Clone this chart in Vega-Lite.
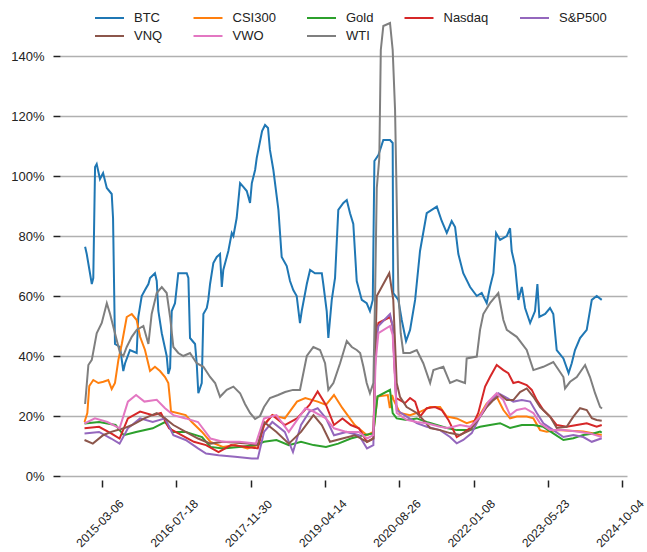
{
"$schema": "https://vega.github.io/schema/vega-lite/v6.json",
"width": 567, "height": 478,
"autosize": {"type": "none"},
"padding": {"left": 60, "top": 2, "right": 20, "bottom": 72},
"background": "white",
"config": {"view": {"stroke": null}, "font": "Liberation Sans"},
"datasets": {
"vol": [
{"date":"2014-11-12","asset":"BTC","vol":0.764},{"date":"2014-11-23","asset":"BTC","vol":0.74},{"date":"2014-12-27","asset":"BTC","vol":0.64},{"date":"2015-01-06","asset":"BTC","vol":0.66},{"date":"2015-01-18","asset":"BTC","vol":1.03},{"date":"2015-01-29","asset":"BTC","vol":1.04},{"date":"2015-02-20","asset":"BTC","vol":0.99},{"date":"2015-03-13","asset":"BTC","vol":1.01},{"date":"2015-04-07","asset":"BTC","vol":0.96},{"date":"2015-05-10","asset":"BTC","vol":0.94},{"date":"2015-05-19","asset":"BTC","vol":0.86},{"date":"2015-06-01","asset":"BTC","vol":0.44},{"date":"2015-07-05","asset":"BTC","vol":0.43},{"date":"2015-07-27","asset":"BTC","vol":0.35},{"date":"2015-08-08","asset":"BTC","vol":0.376},{"date":"2015-09-10","asset":"BTC","vol":0.42},{"date":"2015-10-25","asset":"BTC","vol":0.41},{"date":"2015-11-05","asset":"BTC","vol":0.53},{"date":"2015-11-28","asset":"BTC","vol":0.60},{"date":"2015-12-20","asset":"BTC","vol":0.62},{"date":"2016-01-12","asset":"BTC","vol":0.64},{"date":"2016-01-23","asset":"BTC","vol":0.66},{"date":"2016-02-25","asset":"BTC","vol":0.676},{"date":"2016-03-08","asset":"BTC","vol":0.65},{"date":"2016-03-19","asset":"BTC","vol":0.55},{"date":"2016-04-11","asset":"BTC","vol":0.476},{"date":"2016-05-14","asset":"BTC","vol":0.40},{"date":"2016-05-25","asset":"BTC","vol":0.34},{"date":"2016-06-06","asset":"BTC","vol":0.36},{"date":"2016-06-17","asset":"BTC","vol":0.55},{"date":"2016-07-09","asset":"BTC","vol":0.576},{"date":"2016-07-31","asset":"BTC","vol":0.676},{"date":"2016-09-26","asset":"BTC","vol":0.676},{"date":"2016-10-07","asset":"BTC","vol":0.66},{"date":"2016-10-18","asset":"BTC","vol":0.46},{"date":"2016-11-21","asset":"BTC","vol":0.44},{"date":"2016-12-02","asset":"BTC","vol":0.376},{"date":"2016-12-13","asset":"BTC","vol":0.276},{"date":"2017-01-05","asset":"BTC","vol":0.31},{"date":"2017-01-16","asset":"BTC","vol":0.54},{"date":"2017-02-08","asset":"BTC","vol":0.56},{"date":"2017-02-18","asset":"BTC","vol":0.587},{"date":"2017-03-02","asset":"BTC","vol":0.64},{"date":"2017-03-24","asset":"BTC","vol":0.71},{"date":"2017-04-16","asset":"BTC","vol":0.73},{"date":"2017-05-08","asset":"BTC","vol":0.74},{"date":"2017-05-20","asset":"BTC","vol":0.63},{"date":"2017-05-30","asset":"BTC","vol":0.687},{"date":"2017-07-03","asset":"BTC","vol":0.75},{"date":"2017-07-26","asset":"BTC","vol":0.81},{"date":"2017-08-06","asset":"BTC","vol":0.80},{"date":"2017-08-28","asset":"BTC","vol":0.86},{"date":"2017-09-20","asset":"BTC","vol":0.976},{"date":"2017-10-12","asset":"BTC","vol":0.964},{"date":"2017-11-04","asset":"BTC","vol":0.95},{"date":"2017-11-26","asset":"BTC","vol":0.91},{"date":"2017-12-08","asset":"BTC","vol":0.976},{"date":"2017-12-30","asset":"BTC","vol":1.02},{"date":"2018-01-10","asset":"BTC","vol":1.06},{"date":"2018-02-15","asset":"BTC","vol":1.15},{"date":"2018-03-07","asset":"BTC","vol":1.17},{"date":"2018-03-27","asset":"BTC","vol":1.16},{"date":"2018-04-09","asset":"BTC","vol":1.087},{"date":"2018-05-02","asset":"BTC","vol":1.02},{"date":"2018-06-05","asset":"BTC","vol":0.887},{"date":"2018-06-27","asset":"BTC","vol":0.73},{"date":"2018-07-31","asset":"BTC","vol":0.70},{"date":"2018-08-22","asset":"BTC","vol":0.65},{"date":"2018-09-13","asset":"BTC","vol":0.62},{"date":"2018-10-06","asset":"BTC","vol":0.60},{"date":"2018-10-28","asset":"BTC","vol":0.51},{"date":"2018-11-09","asset":"BTC","vol":0.55},{"date":"2018-12-13","asset":"BTC","vol":0.64},{"date":"2019-01-04","asset":"BTC","vol":0.687},{"date":"2019-02-06","asset":"BTC","vol":0.676},{"date":"2019-03-24","asset":"BTC","vol":0.676},{"date":"2019-04-03","asset":"BTC","vol":0.64},{"date":"2019-04-26","asset":"BTC","vol":0.55},{"date":"2019-05-07","asset":"BTC","vol":0.46},{"date":"2019-05-30","asset":"BTC","vol":0.587},{"date":"2019-06-21","asset":"BTC","vol":0.66},{"date":"2019-07-13","asset":"BTC","vol":0.887},{"date":"2019-08-16","asset":"BTC","vol":0.91},{"date":"2019-09-08","asset":"BTC","vol":0.92},{"date":"2019-09-30","asset":"BTC","vol":0.876},{"date":"2019-10-22","asset":"BTC","vol":0.84},{"date":"2019-11-14","asset":"BTC","vol":0.65},{"date":"2019-12-18","asset":"BTC","vol":0.587},{"date":"2020-01-20","asset":"BTC","vol":0.576},{"date":"2020-02-11","asset":"BTC","vol":0.55},{"date":"2020-03-01","asset":"BTC","vol":0.587},{"date":"2020-03-12","asset":"BTC","vol":1.05},{"date":"2020-04-08","asset":"BTC","vol":1.07},{"date":"2020-05-11","asset":"BTC","vol":1.12},{"date":"2020-06-25","asset":"BTC","vol":1.12},{"date":"2020-07-13","asset":"BTC","vol":1.11},{"date":"2020-07-17","asset":"BTC","vol":0.61},{"date":"2020-08-20","asset":"BTC","vol":0.587},{"date":"2020-09-12","asset":"BTC","vol":0.52},{"date":"2020-10-11","asset":"BTC","vol":0.45},{"date":"2020-11-07","asset":"BTC","vol":0.487},{"date":"2020-12-11","asset":"BTC","vol":0.587},{"date":"2021-01-13","asset":"BTC","vol":0.75},{"date":"2021-02-27","asset":"BTC","vol":0.876},{"date":"2021-04-02","asset":"BTC","vol":0.887},{"date":"2021-05-06","asset":"BTC","vol":0.898},{"date":"2021-06-08","asset":"BTC","vol":0.85},{"date":"2021-07-12","asset":"BTC","vol":0.81},{"date":"2021-08-14","asset":"BTC","vol":0.85},{"date":"2021-09-06","asset":"BTC","vol":0.83},{"date":"2021-09-28","asset":"BTC","vol":0.74},{"date":"2021-10-31","asset":"BTC","vol":0.676},{"date":"2021-12-16","asset":"BTC","vol":0.63},{"date":"2022-01-30","asset":"BTC","vol":0.60},{"date":"2022-03-04","asset":"BTC","vol":0.61},{"date":"2022-04-07","asset":"BTC","vol":0.576},{"date":"2022-04-29","asset":"BTC","vol":0.63},{"date":"2022-05-22","asset":"BTC","vol":0.676},{"date":"2022-06-09","asset":"BTC","vol":0.81},{"date":"2022-07-06","asset":"BTC","vol":0.787},{"date":"2022-08-20","asset":"BTC","vol":0.80},{"date":"2022-09-11","asset":"BTC","vol":0.826},{"date":"2022-09-22","asset":"BTC","vol":0.75},{"date":"2022-10-15","asset":"BTC","vol":0.70},{"date":"2022-11-06","asset":"BTC","vol":0.587},{"date":"2022-11-29","asset":"BTC","vol":0.63},{"date":"2022-12-21","asset":"BTC","vol":0.56},{"date":"2023-01-24","asset":"BTC","vol":0.51},{"date":"2023-02-26","asset":"BTC","vol":0.55},{"date":"2023-03-14","asset":"BTC","vol":0.64},{"date":"2023-03-27","asset":"BTC","vol":0.53},{"date":"2023-05-05","asset":"BTC","vol":0.54},{"date":"2023-06-07","asset":"BTC","vol":0.56},{"date":"2023-06-29","asset":"BTC","vol":0.54},{"date":"2023-07-22","asset":"BTC","vol":0.42},{"date":"2023-09-05","asset":"BTC","vol":0.392},{"date":"2023-10-10","asset":"BTC","vol":0.343},{"date":"2023-10-31","asset":"BTC","vol":0.376},{"date":"2023-11-22","asset":"BTC","vol":0.42},{"date":"2023-12-26","asset":"BTC","vol":0.46},{"date":"2024-02-09","asset":"BTC","vol":0.487},{"date":"2024-03-14","asset":"BTC","vol":0.587},{"date":"2024-04-16","asset":"BTC","vol":0.60},{"date":"2024-05-20","asset":"BTC","vol":0.587},

{"date":"2014-11-08","asset":"CSI300","vol":0.18},{"date":"2014-11-27","asset":"CSI300","vol":0.21},{"date":"2014-12-10","asset":"CSI300","vol":0.30},{"date":"2015-01-06","asset":"CSI300","vol":0.32},{"date":"2015-02-09","asset":"CSI300","vol":0.31},{"date":"2015-03-15","asset":"CSI300","vol":0.314},{"date":"2015-04-17","asset":"CSI300","vol":0.32},{"date":"2015-05-10","asset":"CSI300","vol":0.29},{"date":"2015-06-01","asset":"CSI300","vol":0.31},{"date":"2015-06-24","asset":"CSI300","vol":0.387},{"date":"2015-07-17","asset":"CSI300","vol":0.44},{"date":"2015-08-19","asset":"CSI300","vol":0.53},{"date":"2015-09-22","asset":"CSI300","vol":0.54},{"date":"2015-10-25","asset":"CSI300","vol":0.52},{"date":"2015-11-17","asset":"CSI300","vol":0.464},{"date":"2015-12-20","asset":"CSI300","vol":0.42},{"date":"2016-01-23","asset":"CSI300","vol":0.35},{"date":"2016-02-25","asset":"CSI300","vol":0.364},{"date":"2016-03-30","asset":"CSI300","vol":0.35},{"date":"2016-05-03","asset":"CSI300","vol":0.33},{"date":"2016-05-25","asset":"CSI300","vol":0.31},{"date":"2016-06-06","asset":"CSI300","vol":0.25},{"date":"2016-06-12","asset":"CSI300","vol":0.215},{"date":"2016-07-25","asset":"CSI300","vol":0.21},{"date":"2016-09-19","asset":"CSI300","vol":0.203},{"date":"2016-10-30","asset":"CSI300","vol":0.18},{"date":"2017-01-07","asset":"CSI300","vol":0.147},{"date":"2017-03-05","asset":"CSI300","vol":0.114},{"date":"2017-05-27","asset":"CSI300","vol":0.097},{"date":"2017-08-17","asset":"CSI300","vol":0.103},{"date":"2017-11-09","asset":"CSI300","vol":0.092},{"date":"2018-01-17","asset":"CSI300","vol":0.103},{"date":"2018-02-28","asset":"CSI300","vol":0.17},{"date":"2018-04-25","asset":"CSI300","vol":0.203},{"date":"2018-07-18","asset":"CSI300","vol":0.192},{"date":"2018-10-08","asset":"CSI300","vol":0.248},{"date":"2018-12-03","asset":"CSI300","vol":0.26},{"date":"2019-02-24","asset":"CSI300","vol":0.248},{"date":"2019-04-21","asset":"CSI300","vol":0.237},{"date":"2019-06-14","asset":"CSI300","vol":0.27},{"date":"2019-08-10","asset":"CSI300","vol":0.226},{"date":"2019-11-01","asset":"CSI300","vol":0.17},{"date":"2020-01-22","asset":"CSI300","vol":0.136},{"date":"2020-03-05","asset":"CSI300","vol":0.147},{"date":"2020-04-02","asset":"CSI300","vol":0.265},{"date":"2020-06-10","asset":"CSI300","vol":0.27},{"date":"2020-06-24","asset":"CSI300","vol":0.226},{"date":"2020-07-09","asset":"CSI300","vol":0.27},{"date":"2020-07-20","asset":"CSI300","vol":0.253},{"date":"2020-08-31","asset":"CSI300","vol":0.21},{"date":"2020-11-07","asset":"CSI300","vol":0.203},{"date":"2021-01-13","asset":"CSI300","vol":0.214},{"date":"2021-03-22","asset":"CSI300","vol":0.23},{"date":"2021-05-28","asset":"CSI300","vol":0.23},{"date":"2021-07-12","asset":"CSI300","vol":0.198},{"date":"2021-09-17","asset":"CSI300","vol":0.192},{"date":"2021-11-23","asset":"CSI300","vol":0.176},{"date":"2022-01-30","asset":"CSI300","vol":0.187},{"date":"2022-04-07","asset":"CSI300","vol":0.242},{"date":"2022-06-13","asset":"CSI300","vol":0.264},{"date":"2022-07-28","asset":"CSI300","vol":0.22},{"date":"2022-09-11","asset":"CSI300","vol":0.192},{"date":"2022-10-26","asset":"CSI300","vol":0.198},{"date":"2023-01-01","asset":"CSI300","vol":0.198},{"date":"2023-02-15","asset":"CSI300","vol":0.192},{"date":"2023-04-01","asset":"CSI300","vol":0.153},{"date":"2023-05-16","asset":"CSI300","vol":0.148},{"date":"2023-07-22","asset":"CSI300","vol":0.153},{"date":"2024-01-17","asset":"CSI300","vol":0.148},{"date":"2024-05-20","asset":"CSI300","vol":0.137},

{"date":"2014-11-08","asset":"Gold","vol":0.175},{"date":"2015-02-14","asset":"Gold","vol":0.18},{"date":"2015-06-05","asset":"Gold","vol":0.17},{"date":"2015-07-30","asset":"Gold","vol":0.136},{"date":"2015-10-21","asset":"Gold","vol":0.147},{"date":"2016-02-10","asset":"Gold","vol":0.159},{"date":"2016-05-03","asset":"Gold","vol":0.18},{"date":"2016-06-28","asset":"Gold","vol":0.147},{"date":"2016-09-19","asset":"Gold","vol":0.147},{"date":"2017-01-07","asset":"Gold","vol":0.13},{"date":"2017-03-05","asset":"Gold","vol":0.097},{"date":"2017-05-27","asset":"Gold","vol":0.092},{"date":"2017-09-13","asset":"Gold","vol":0.097},{"date":"2018-01-04","asset":"Gold","vol":0.103},{"date":"2018-02-28","asset":"Gold","vol":0.114},{"date":"2018-05-23","asset":"Gold","vol":0.12},{"date":"2018-08-14","asset":"Gold","vol":0.103},{"date":"2018-11-04","asset":"Gold","vol":0.114},{"date":"2019-01-27","asset":"Gold","vol":0.103},{"date":"2019-04-21","asset":"Gold","vol":0.097},{"date":"2019-07-13","asset":"Gold","vol":0.108},{"date":"2019-10-05","asset":"Gold","vol":0.125},{"date":"2019-12-27","asset":"Gold","vol":0.136},{"date":"2020-03-05","asset":"Gold","vol":0.142},{"date":"2020-04-02","asset":"Gold","vol":0.265},{"date":"2020-06-25","asset":"Gold","vol":0.287},{"date":"2020-07-13","asset":"Gold","vol":0.21},{"date":"2020-08-09","asset":"Gold","vol":0.192},{"date":"2020-10-15","asset":"Gold","vol":0.187},{"date":"2020-12-22","asset":"Gold","vol":0.192},{"date":"2021-02-27","asset":"Gold","vol":0.18},{"date":"2021-05-06","asset":"Gold","vol":0.17},{"date":"2021-07-12","asset":"Gold","vol":0.16},{"date":"2021-09-17","asset":"Gold","vol":0.153},{"date":"2021-12-16","asset":"Gold","vol":0.153},{"date":"2022-02-21","asset":"Gold","vol":0.164},{"date":"2022-04-29","asset":"Gold","vol":0.17},{"date":"2022-07-06","asset":"Gold","vol":0.176},{"date":"2022-09-11","asset":"Gold","vol":0.16},{"date":"2022-11-29","asset":"Gold","vol":0.17},{"date":"2023-02-15","asset":"Gold","vol":0.17},{"date":"2023-04-23","asset":"Gold","vol":0.164},{"date":"2023-06-29","asset":"Gold","vol":0.142},{"date":"2023-09-05","asset":"Gold","vol":0.12},{"date":"2023-11-11","asset":"Gold","vol":0.126},{"date":"2024-01-17","asset":"Gold","vol":0.137},{"date":"2024-03-24","asset":"Gold","vol":0.142},{"date":"2024-05-09","asset":"Gold","vol":0.148},{"date":"2024-05-20","asset":"Gold","vol":0.145},

{"date":"2014-11-08","asset":"Nasdaq","vol":0.159},{"date":"2015-02-14","asset":"Nasdaq","vol":0.164},{"date":"2015-05-06","asset":"Nasdaq","vol":0.142},{"date":"2015-07-02","asset":"Nasdaq","vol":0.125},{"date":"2015-08-27","asset":"Nasdaq","vol":0.192},{"date":"2015-11-17","asset":"Nasdaq","vol":0.215},{"date":"2016-02-10","asset":"Nasdaq","vol":0.203},{"date":"2016-04-05","asset":"Nasdaq","vol":0.21},{"date":"2016-05-30","asset":"Nasdaq","vol":0.159},{"date":"2016-08-22","asset":"Nasdaq","vol":0.136},{"date":"2016-11-13","asset":"Nasdaq","vol":0.114},{"date":"2017-02-03","asset":"Nasdaq","vol":0.103},{"date":"2017-04-28","asset":"Nasdaq","vol":0.08},{"date":"2017-07-21","asset":"Nasdaq","vol":0.103},{"date":"2017-11-09","asset":"Nasdaq","vol":0.097},{"date":"2018-01-17","asset":"Nasdaq","vol":0.092},{"date":"2018-02-28","asset":"Nasdaq","vol":0.17},{"date":"2018-04-25","asset":"Nasdaq","vol":0.203},{"date":"2018-07-18","asset":"Nasdaq","vol":0.17},{"date":"2018-10-08","asset":"Nasdaq","vol":0.192},{"date":"2018-12-31","asset":"Nasdaq","vol":0.237},{"date":"2019-02-24","asset":"Nasdaq","vol":0.282},{"date":"2019-04-21","asset":"Nasdaq","vol":0.237},{"date":"2019-06-14","asset":"Nasdaq","vol":0.17},{"date":"2019-08-10","asset":"Nasdaq","vol":0.192},{"date":"2019-10-05","asset":"Nasdaq","vol":0.17},{"date":"2019-11-29","asset":"Nasdaq","vol":0.159},{"date":"2020-01-22","asset":"Nasdaq","vol":0.114},{"date":"2020-03-05","asset":"Nasdaq","vol":0.125},{"date":"2020-03-20","asset":"Nasdaq","vol":0.45},{"date":"2020-04-08","asset":"Nasdaq","vol":0.51},{"date":"2020-06-25","asset":"Nasdaq","vol":0.53},{"date":"2020-07-13","asset":"Nasdaq","vol":0.50},{"date":"2020-08-05","asset":"Nasdaq","vol":0.26},{"date":"2020-08-31","asset":"Nasdaq","vol":0.253},{"date":"2020-10-04","asset":"Nasdaq","vol":0.243},{"date":"2020-11-07","asset":"Nasdaq","vol":0.26},{"date":"2020-12-11","asset":"Nasdaq","vol":0.248},{"date":"2021-01-13","asset":"Nasdaq","vol":0.198},{"date":"2021-02-27","asset":"Nasdaq","vol":0.226},{"date":"2021-04-24","asset":"Nasdaq","vol":0.23},{"date":"2021-06-08","asset":"Nasdaq","vol":0.22},{"date":"2021-07-23","asset":"Nasdaq","vol":0.187},{"date":"2021-09-17","asset":"Nasdaq","vol":0.13},{"date":"2021-10-31","asset":"Nasdaq","vol":0.143},{"date":"2021-12-27","asset":"Nasdaq","vol":0.164},{"date":"2022-02-09","asset":"Nasdaq","vol":0.21},{"date":"2022-03-27","asset":"Nasdaq","vol":0.298},{"date":"2022-04-29","asset":"Nasdaq","vol":0.33},{"date":"2022-06-13","asset":"Nasdaq","vol":0.37},{"date":"2022-07-28","asset":"Nasdaq","vol":0.353},{"date":"2022-08-30","asset":"Nasdaq","vol":0.343},{"date":"2022-10-03","asset":"Nasdaq","vol":0.31},{"date":"2022-11-06","asset":"Nasdaq","vol":0.314},{"date":"2023-01-01","asset":"Nasdaq","vol":0.303},{"date":"2023-02-04","asset":"Nasdaq","vol":0.287},{"date":"2023-03-10","asset":"Nasdaq","vol":0.253},{"date":"2023-04-23","asset":"Nasdaq","vol":0.22},{"date":"2023-06-07","asset":"Nasdaq","vol":0.198},{"date":"2023-07-22","asset":"Nasdaq","vol":0.17},{"date":"2023-09-27","asset":"Nasdaq","vol":0.164},{"date":"2023-12-04","asset":"Nasdaq","vol":0.17},{"date":"2024-02-09","asset":"Nasdaq","vol":0.176},{"date":"2024-04-16","asset":"Nasdaq","vol":0.164},{"date":"2024-05-20","asset":"Nasdaq","vol":0.17},

{"date":"2014-11-08","asset":"S&P500","vol":0.142},{"date":"2015-02-14","asset":"S&P500","vol":0.147},{"date":"2015-05-06","asset":"S&P500","vol":0.125},{"date":"2015-07-02","asset":"S&P500","vol":0.108},{"date":"2015-08-27","asset":"S&P500","vol":0.159},{"date":"2015-11-17","asset":"S&P500","vol":0.192},{"date":"2016-02-10","asset":"S&P500","vol":0.18},{"date":"2016-05-03","asset":"S&P500","vol":0.192},{"date":"2016-06-28","asset":"S&P500","vol":0.136},{"date":"2016-09-19","asset":"S&P500","vol":0.12},{"date":"2016-12-11","asset":"S&P500","vol":0.092},{"date":"2017-02-03","asset":"S&P500","vol":0.075},{"date":"2017-04-28","asset":"S&P500","vol":0.069},{"date":"2017-08-17","asset":"S&P500","vol":0.064},{"date":"2017-12-08","asset":"S&P500","vol":0.058},{"date":"2018-01-17","asset":"S&P500","vol":0.058},{"date":"2018-02-28","asset":"S&P500","vol":0.147},{"date":"2018-04-25","asset":"S&P500","vol":0.18},{"date":"2018-07-18","asset":"S&P500","vol":0.147},{"date":"2018-09-11","asset":"S&P500","vol":0.08},{"date":"2018-11-04","asset":"S&P500","vol":0.17},{"date":"2018-12-31","asset":"S&P500","vol":0.215},{"date":"2019-02-24","asset":"S&P500","vol":0.226},{"date":"2019-04-21","asset":"S&P500","vol":0.192},{"date":"2019-06-14","asset":"S&P500","vol":0.136},{"date":"2019-09-06","asset":"S&P500","vol":0.147},{"date":"2019-11-29","asset":"S&P500","vol":0.136},{"date":"2020-01-22","asset":"S&P500","vol":0.092},{"date":"2020-03-05","asset":"S&P500","vol":0.103},{"date":"2020-03-20","asset":"S&P500","vol":0.44},{"date":"2020-04-08","asset":"S&P500","vol":0.50},{"date":"2020-06-25","asset":"S&P500","vol":0.54},{"date":"2020-07-13","asset":"S&P500","vol":0.50},{"date":"2020-08-09","asset":"S&P500","vol":0.22},{"date":"2020-10-15","asset":"S&P500","vol":0.198},{"date":"2020-12-22","asset":"S&P500","vol":0.176},{"date":"2021-02-27","asset":"S&P500","vol":0.164},{"date":"2021-05-28","asset":"S&P500","vol":0.153},{"date":"2021-08-03","asset":"S&P500","vol":0.13},{"date":"2021-09-17","asset":"S&P500","vol":0.109},{"date":"2021-10-31","asset":"S&P500","vol":0.12},{"date":"2021-12-27","asset":"S&P500","vol":0.143},{"date":"2022-02-21","asset":"S&P500","vol":0.198},{"date":"2022-04-29","asset":"S&P500","vol":0.248},{"date":"2022-06-24","asset":"S&P500","vol":0.276},{"date":"2022-08-08","asset":"S&P500","vol":0.264},{"date":"2022-10-03","asset":"S&P500","vol":0.248},{"date":"2022-11-29","asset":"S&P500","vol":0.253},{"date":"2023-01-24","asset":"S&P500","vol":0.248},{"date":"2023-03-10","asset":"S&P500","vol":0.21},{"date":"2023-04-23","asset":"S&P500","vol":0.176},{"date":"2023-06-29","asset":"S&P500","vol":0.153},{"date":"2023-09-05","asset":"S&P500","vol":0.13},{"date":"2023-11-11","asset":"S&P500","vol":0.137},{"date":"2024-01-17","asset":"S&P500","vol":0.13},{"date":"2024-03-14","asset":"S&P500","vol":0.114},{"date":"2024-05-20","asset":"S&P500","vol":0.126},

{"date":"2014-11-08","asset":"VNQ","vol":0.12},{"date":"2015-01-03","asset":"VNQ","vol":0.108},{"date":"2015-03-13","asset":"VNQ","vol":0.136},{"date":"2015-05-06","asset":"VNQ","vol":0.147},{"date":"2015-07-30","asset":"VNQ","vol":0.159},{"date":"2015-09-24","asset":"VNQ","vol":0.17},{"date":"2015-12-16","asset":"VNQ","vol":0.192},{"date":"2016-03-08","asset":"VNQ","vol":0.21},{"date":"2016-05-03","asset":"VNQ","vol":0.192},{"date":"2016-06-28","asset":"VNQ","vol":0.17},{"date":"2016-09-19","asset":"VNQ","vol":0.147},{"date":"2016-12-11","asset":"VNQ","vol":0.125},{"date":"2017-03-05","asset":"VNQ","vol":0.108},{"date":"2017-05-27","asset":"VNQ","vol":0.114},{"date":"2017-11-09","asset":"VNQ","vol":0.108},{"date":"2018-01-17","asset":"VNQ","vol":0.103},{"date":"2018-02-28","asset":"VNQ","vol":0.18},{"date":"2018-05-23","asset":"VNQ","vol":0.147},{"date":"2018-08-14","asset":"VNQ","vol":0.108},{"date":"2018-11-04","asset":"VNQ","vol":0.147},{"date":"2019-01-27","asset":"VNQ","vol":0.203},{"date":"2019-03-24","asset":"VNQ","vol":0.17},{"date":"2019-05-18","asset":"VNQ","vol":0.114},{"date":"2019-08-10","asset":"VNQ","vol":0.125},{"date":"2019-11-01","asset":"VNQ","vol":0.136},{"date":"2020-01-22","asset":"VNQ","vol":0.114},{"date":"2020-03-05","asset":"VNQ","vol":0.125},{"date":"2020-03-20","asset":"VNQ","vol":0.45},{"date":"2020-03-28","asset":"VNQ","vol":0.60},{"date":"2020-06-20","asset":"VNQ","vol":0.676},{"date":"2020-07-17","asset":"VNQ","vol":0.587},{"date":"2020-08-09","asset":"VNQ","vol":0.31},{"date":"2020-08-31","asset":"VNQ","vol":0.264},{"date":"2020-10-15","asset":"VNQ","vol":0.23},{"date":"2020-12-22","asset":"VNQ","vol":0.21},{"date":"2021-02-04","asset":"VNQ","vol":0.187},{"date":"2021-03-22","asset":"VNQ","vol":0.16},{"date":"2021-05-28","asset":"VNQ","vol":0.153},{"date":"2021-08-03","asset":"VNQ","vol":0.143},{"date":"2021-10-09","asset":"VNQ","vol":0.137},{"date":"2021-12-16","asset":"VNQ","vol":0.153},{"date":"2022-02-21","asset":"VNQ","vol":0.198},{"date":"2022-04-07","asset":"VNQ","vol":0.23},{"date":"2022-05-22","asset":"VNQ","vol":0.253},{"date":"2022-07-06","asset":"VNQ","vol":0.27},{"date":"2022-08-20","asset":"VNQ","vol":0.253},{"date":"2022-10-03","asset":"VNQ","vol":0.253},{"date":"2022-11-17","asset":"VNQ","vol":0.28},{"date":"2023-01-01","asset":"VNQ","vol":0.292},{"date":"2023-02-15","asset":"VNQ","vol":0.264},{"date":"2023-04-01","asset":"VNQ","vol":0.23},{"date":"2023-06-07","asset":"VNQ","vol":0.198},{"date":"2023-07-22","asset":"VNQ","vol":0.16},{"date":"2023-09-27","asset":"VNQ","vol":0.164},{"date":"2023-11-11","asset":"VNQ","vol":0.198},{"date":"2023-12-26","asset":"VNQ","vol":0.226},{"date":"2024-02-09","asset":"VNQ","vol":0.22},{"date":"2024-03-14","asset":"VNQ","vol":0.193},{"date":"2024-04-16","asset":"VNQ","vol":0.187},{"date":"2024-05-20","asset":"VNQ","vol":0.184},

{"date":"2014-11-08","asset":"VWO","vol":0.175},{"date":"2015-01-17","asset":"VWO","vol":0.192},{"date":"2015-04-11","asset":"VWO","vol":0.18},{"date":"2015-07-02","asset":"VWO","vol":0.159},{"date":"2015-08-27","asset":"VWO","vol":0.248},{"date":"2015-10-21","asset":"VWO","vol":0.27},{"date":"2015-12-16","asset":"VWO","vol":0.248},{"date":"2016-03-08","asset":"VWO","vol":0.254},{"date":"2016-05-03","asset":"VWO","vol":0.226},{"date":"2016-06-28","asset":"VWO","vol":0.203},{"date":"2016-09-19","asset":"VWO","vol":0.192},{"date":"2016-12-11","asset":"VWO","vol":0.18},{"date":"2017-03-05","asset":"VWO","vol":0.125},{"date":"2017-05-27","asset":"VWO","vol":0.114},{"date":"2017-09-15","asset":"VWO","vol":0.114},{"date":"2018-01-04","asset":"VWO","vol":0.108},{"date":"2018-02-28","asset":"VWO","vol":0.192},{"date":"2018-05-23","asset":"VWO","vol":0.203},{"date":"2018-08-14","asset":"VWO","vol":0.147},{"date":"2018-12-03","asset":"VWO","vol":0.226},{"date":"2019-01-27","asset":"VWO","vol":0.215},{"date":"2019-04-21","asset":"VWO","vol":0.192},{"date":"2019-06-14","asset":"VWO","vol":0.159},{"date":"2019-09-06","asset":"VWO","vol":0.147},{"date":"2019-11-29","asset":"VWO","vol":0.147},{"date":"2020-01-22","asset":"VWO","vol":0.125},{"date":"2020-03-05","asset":"VWO","vol":0.136},{"date":"2020-03-20","asset":"VWO","vol":0.38},{"date":"2020-04-08","asset":"VWO","vol":0.476},{"date":"2020-06-25","asset":"VWO","vol":0.50},{"date":"2020-07-13","asset":"VWO","vol":0.47},{"date":"2020-08-09","asset":"VWO","vol":0.21},{"date":"2020-10-15","asset":"VWO","vol":0.187},{"date":"2020-12-22","asset":"VWO","vol":0.18},{"date":"2021-02-27","asset":"VWO","vol":0.176},{"date":"2021-05-28","asset":"VWO","vol":0.164},{"date":"2021-07-12","asset":"VWO","vol":0.16},{"date":"2021-08-25","asset":"VWO","vol":0.164},{"date":"2021-10-09","asset":"VWO","vol":0.17},{"date":"2021-12-16","asset":"VWO","vol":0.164},{"date":"2022-02-21","asset":"VWO","vol":0.198},{"date":"2022-04-18","asset":"VWO","vol":0.248},{"date":"2022-06-13","asset":"VWO","vol":0.276},{"date":"2022-07-28","asset":"VWO","vol":0.253},{"date":"2022-09-11","asset":"VWO","vol":0.203},{"date":"2022-10-26","asset":"VWO","vol":0.22},{"date":"2022-12-21","asset":"VWO","vol":0.226},{"date":"2023-02-15","asset":"VWO","vol":0.21},{"date":"2023-04-01","asset":"VWO","vol":0.176},{"date":"2023-06-07","asset":"VWO","vol":0.153},{"date":"2023-09-05","asset":"VWO","vol":0.153},{"date":"2023-12-04","asset":"VWO","vol":0.148},{"date":"2024-03-02","asset":"VWO","vol":0.142},{"date":"2024-05-20","asset":"VWO","vol":0.13},

{"date":"2014-11-12","asset":"WTI","vol":0.24},{"date":"2014-12-04","asset":"WTI","vol":0.37},{"date":"2014-12-27","asset":"WTI","vol":0.387},{"date":"2015-01-29","asset":"WTI","vol":0.476},{"date":"2015-03-04","asset":"WTI","vol":0.51},{"date":"2015-04-07","asset":"WTI","vol":0.576},{"date":"2015-04-29","asset":"WTI","vol":0.54},{"date":"2015-06-01","asset":"WTI","vol":0.476},{"date":"2015-07-05","asset":"WTI","vol":0.41},{"date":"2015-07-27","asset":"WTI","vol":0.40},{"date":"2015-08-19","asset":"WTI","vol":0.43},{"date":"2015-09-22","asset":"WTI","vol":0.464},{"date":"2015-10-25","asset":"WTI","vol":0.487},{"date":"2015-12-09","asset":"WTI","vol":0.50},{"date":"2016-01-12","asset":"WTI","vol":0.44},{"date":"2016-02-03","asset":"WTI","vol":0.54},{"date":"2016-03-08","asset":"WTI","vol":0.61},{"date":"2016-04-11","asset":"WTI","vol":0.63},{"date":"2016-05-14","asset":"WTI","vol":0.61},{"date":"2016-06-06","asset":"WTI","vol":0.53},{"date":"2016-06-28","asset":"WTI","vol":0.43},{"date":"2016-07-31","asset":"WTI","vol":0.41},{"date":"2016-09-03","asset":"WTI","vol":0.40},{"date":"2016-10-18","asset":"WTI","vol":0.41},{"date":"2016-12-02","asset":"WTI","vol":0.376},{"date":"2017-01-16","asset":"WTI","vol":0.364},{"date":"2017-03-02","asset":"WTI","vol":0.33},{"date":"2017-04-05","asset":"WTI","vol":0.31},{"date":"2017-05-08","asset":"WTI","vol":0.264},{"date":"2017-06-22","asset":"WTI","vol":0.287},{"date":"2017-08-06","asset":"WTI","vol":0.298},{"date":"2017-09-20","asset":"WTI","vol":0.276},{"date":"2017-10-23","asset":"WTI","vol":0.24},{"date":"2017-11-26","asset":"WTI","vol":0.21},{"date":"2017-12-30","asset":"WTI","vol":0.19},{"date":"2018-02-01","asset":"WTI","vol":0.20},{"date":"2018-02-28","asset":"WTI","vol":0.23},{"date":"2018-04-09","asset":"WTI","vol":0.26},{"date":"2018-06-03","asset":"WTI","vol":0.27},{"date":"2018-07-20","asset":"WTI","vol":0.28},{"date":"2018-09-11","asset":"WTI","vol":0.287},{"date":"2018-10-28","asset":"WTI","vol":0.287},{"date":"2018-12-13","asset":"WTI","vol":0.40},{"date":"2019-01-26","asset":"WTI","vol":0.43},{"date":"2019-03-12","asset":"WTI","vol":0.42},{"date":"2019-04-15","asset":"WTI","vol":0.376},{"date":"2019-05-07","asset":"WTI","vol":0.287},{"date":"2019-06-10","asset":"WTI","vol":0.31},{"date":"2019-07-25","asset":"WTI","vol":0.376},{"date":"2019-09-08","asset":"WTI","vol":0.45},{"date":"2019-10-12","asset":"WTI","vol":0.43},{"date":"2019-11-14","asset":"WTI","vol":0.42},{"date":"2019-12-07","asset":"WTI","vol":0.41},{"date":"2019-12-29","asset":"WTI","vol":0.364},{"date":"2020-01-20","asset":"WTI","vol":0.31},{"date":"2020-02-11","asset":"WTI","vol":0.276},{"date":"2020-03-05","asset":"WTI","vol":0.31},{"date":"2020-03-16","asset":"WTI","vol":0.587},{"date":"2020-03-28","asset":"WTI","vol":0.96},{"date":"2020-04-14","asset":"WTI","vol":1.06},{"date":"2020-04-24","asset":"WTI","vol":1.42},{"date":"2020-05-11","asset":"WTI","vol":1.50},{"date":"2020-06-25","asset":"WTI","vol":1.51},{"date":"2020-07-13","asset":"WTI","vol":1.42},{"date":"2020-07-29","asset":"WTI","vol":1.22},{"date":"2020-08-20","asset":"WTI","vol":0.62},{"date":"2020-09-05","asset":"WTI","vol":0.476},{"date":"2020-09-23","asset":"WTI","vol":0.41},{"date":"2020-11-07","asset":"WTI","vol":0.41},{"date":"2020-12-22","asset":"WTI","vol":0.42},{"date":"2021-02-04","asset":"WTI","vol":0.376},{"date":"2021-03-22","asset":"WTI","vol":0.31},{"date":"2021-04-13","asset":"WTI","vol":0.353},{"date":"2021-06-19","asset":"WTI","vol":0.364},{"date":"2021-08-03","asset":"WTI","vol":0.31},{"date":"2021-09-17","asset":"WTI","vol":0.32},{"date":"2021-11-12","asset":"WTI","vol":0.31},{"date":"2021-11-23","asset":"WTI","vol":0.392},{"date":"2022-01-30","asset":"WTI","vol":0.398},{"date":"2022-02-21","asset":"WTI","vol":0.487},{"date":"2022-03-15","asset":"WTI","vol":0.54},{"date":"2022-04-29","asset":"WTI","vol":0.576},{"date":"2022-06-24","asset":"WTI","vol":0.61},{"date":"2022-07-28","asset":"WTI","vol":0.52},{"date":"2022-08-20","asset":"WTI","vol":0.487},{"date":"2022-10-26","asset":"WTI","vol":0.464},{"date":"2023-01-01","asset":"WTI","vol":0.42},{"date":"2023-02-15","asset":"WTI","vol":0.353},{"date":"2023-04-23","asset":"WTI","vol":0.364},{"date":"2023-06-29","asset":"WTI","vol":0.38},{"date":"2023-09-05","asset":"WTI","vol":0.33},{"date":"2023-09-16","asset":"WTI","vol":0.292},{"date":"2023-10-20","asset":"WTI","vol":0.314},{"date":"2023-12-04","asset":"WTI","vol":0.33},{"date":"2024-01-29","asset":"WTI","vol":0.37},{"date":"2024-03-02","asset":"WTI","vol":0.33},{"date":"2024-04-05","asset":"WTI","vol":0.276},{"date":"2024-05-09","asset":"WTI","vol":0.23},{"date":"2024-05-22","asset":"WTI","vol":0.225}
]
},
"data": {"name": "vol", "format": {"parse": {"date": "date:'%Y-%m-%d'"}}},
"mark": {"type": "line", "strokeWidth": 2, "clip": true},
"encoding": {
"x": {"field": "date", "type": "temporal",
 "scale": {"domain": [{"year": 2014, "month": 5, "date": 27}, {"year": 2024, "month": 11, "date": 6}]},
 "axis": {"title": null, "grid": false, "domain": false,
  "values": [{"year": 2015, "month": 3, "date": 6}, {"year": 2016, "month": 7, "date": 18}, {"year": 2017, "month": 11, "date": 30}, {"year": 2019, "month": 4, "date": 14}, {"year": 2020, "month": 8, "date": 26}, {"year": 2022, "month": 1, "date": 8}, {"year": 2023, "month": 5, "date": 23}, {"year": 2024, "month": 10, "date": 4}],
  "format": "%Y-%m-%d", "tickColor": "#222", "tickSize": 7, "tickWidth": 1.5,
  "labelAngle": -45, "labelAlign": "center", "labelBaseline": "middle", "labelPadding": 36, "labelOffset": -2.5,
  "labelFontSize": 12, "labelColor": "#222", "labelFlush": false, "labelOverlap": false, "labelFont": "Liberation Sans"}},
"y": {"field": "vol", "type": "quantitative",
 "scale": {"domain": [-0.0133, 1.58], "nice": false, "zero": false},
 "axis": {"title": null, "values": [0, 0.2, 0.4, 0.6, 0.8, 1.0, 1.2, 1.4], "format": ".0%",
  "grid": true, "gridColor": "#b0b0b0", "gridWidth": 1.5, "domain": false,
  "tickColor": "#222", "tickSize": 7, "tickWidth": 1.5, "labelPadding": 9,
  "labelFontSize": 13, "labelColor": "#222", "labelFont": "Liberation Sans"}},
"color": {"field": "asset", "type": "nominal",
 "scale": {"domain": ["BTC", "CSI300", "Gold", "Nasdaq", "S&P500", "VNQ", "VWO", "WTI"],
  "range": ["#1f77b4", "#ff7f0e", "#2ca02c", "#d62728", "#9467bd", "#8c564b", "#e377c2", "#7f7f7f"]},
 "legend": {"title": null, "orient": "none", "legendX": 38.5, "legendY": 5, "direction": "horizontal", "columns": 5,
  "symbolType": "M-1.45,0L1.45,0", "symbolSize": 400, "symbolStrokeWidth": 2,
  "labelFontSize": 13, "labelColor": "#222", "labelFont": "Liberation Sans", "labelOffset": 13.5,
  "columnPadding": 26.5, "rowPadding": -3, "padding": 0}}
}
}
